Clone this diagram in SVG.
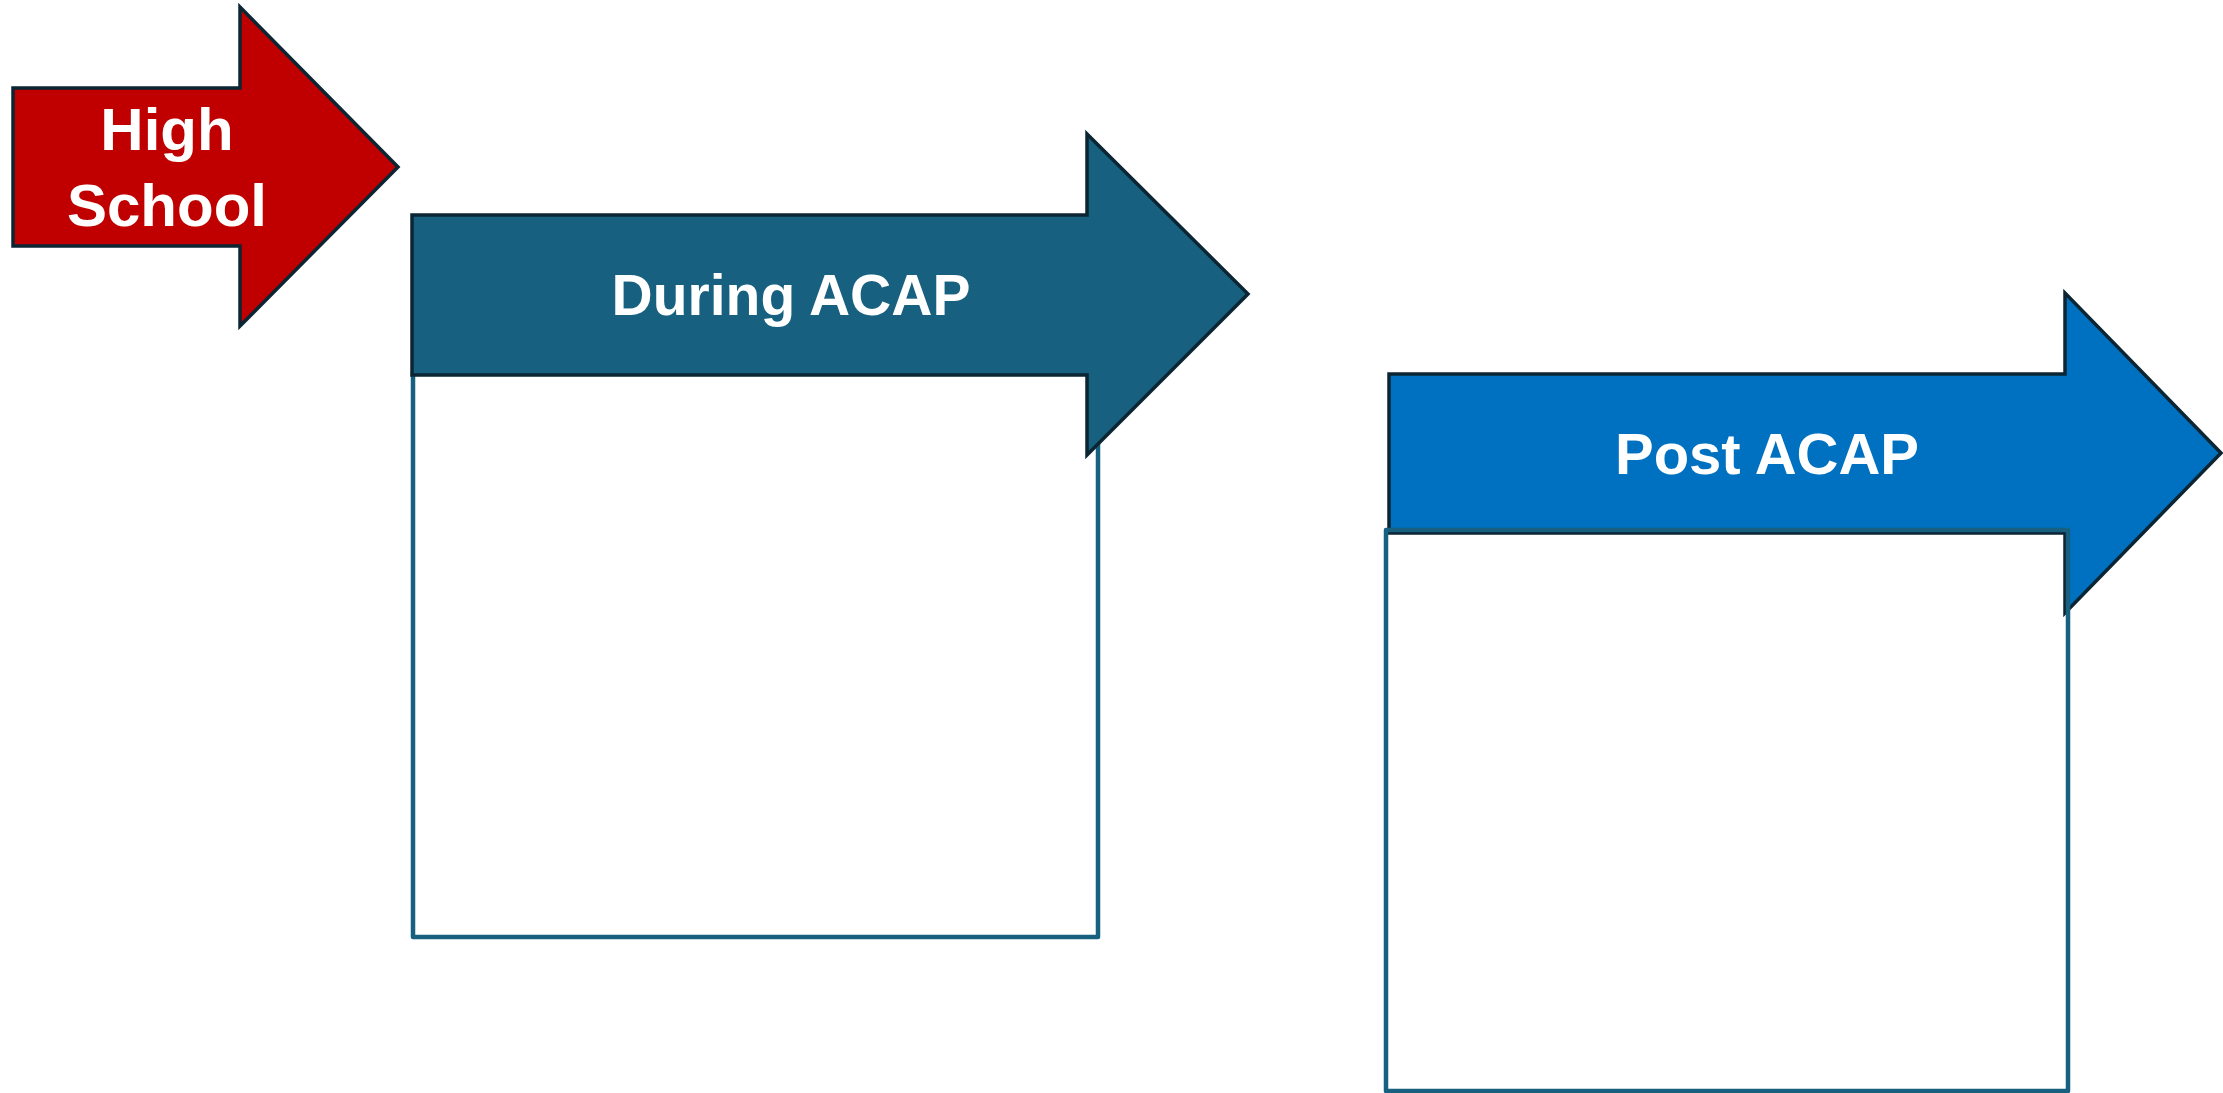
<svg xmlns="http://www.w3.org/2000/svg" width="2223" height="1093" viewBox="0 0 2223 1093">
<style>
.arrow{stroke:#0c2533;stroke-width:3.5;stroke-linejoin:miter}
.box{fill:none;stroke:#17607f;stroke-width:4.5;stroke-linejoin:round}
.lbl{font-family:"Liberation Sans",Arial,sans-serif;font-weight:bold;fill:#ffffff;text-anchor:middle}
</style>
<rect width="2223" height="1093" fill="#ffffff"/>
<g id="during-box">
<rect class="box" x="413" y="373" width="685" height="564"/>
</g>
<g id="high-school">
<polygon class="arrow" fill="#c00000" points="13,88 240,88 240,7 398,167 240,326 240,246 13,246"/>
<text class="lbl" x="167" y="150" font-size="60">High</text>
<text class="lbl" x="167" y="226" font-size="60">School</text>
</g>
<g id="during-acap">
<polygon class="arrow" fill="#17607f" points="412,215 1087,215 1087,134 1248,294 1087,455 1087,375 412,375"/>
<text class="lbl" x="791" y="315" font-size="57">During ACAP</text>
</g>
<g id="post-acap">
<polygon class="arrow" fill="#0070c0" points="1389,374 2065,374 2065,293 2221,453 2065,613 2065,533 1389,533"/>
<text class="lbl" x="1767" y="474" font-size="58">Post ACAP</text>
</g>
<g id="post-box">
<rect class="box" x="1386" y="530" width="682" height="561"/>
</g>
<g id="connectors"></g>
</svg>
